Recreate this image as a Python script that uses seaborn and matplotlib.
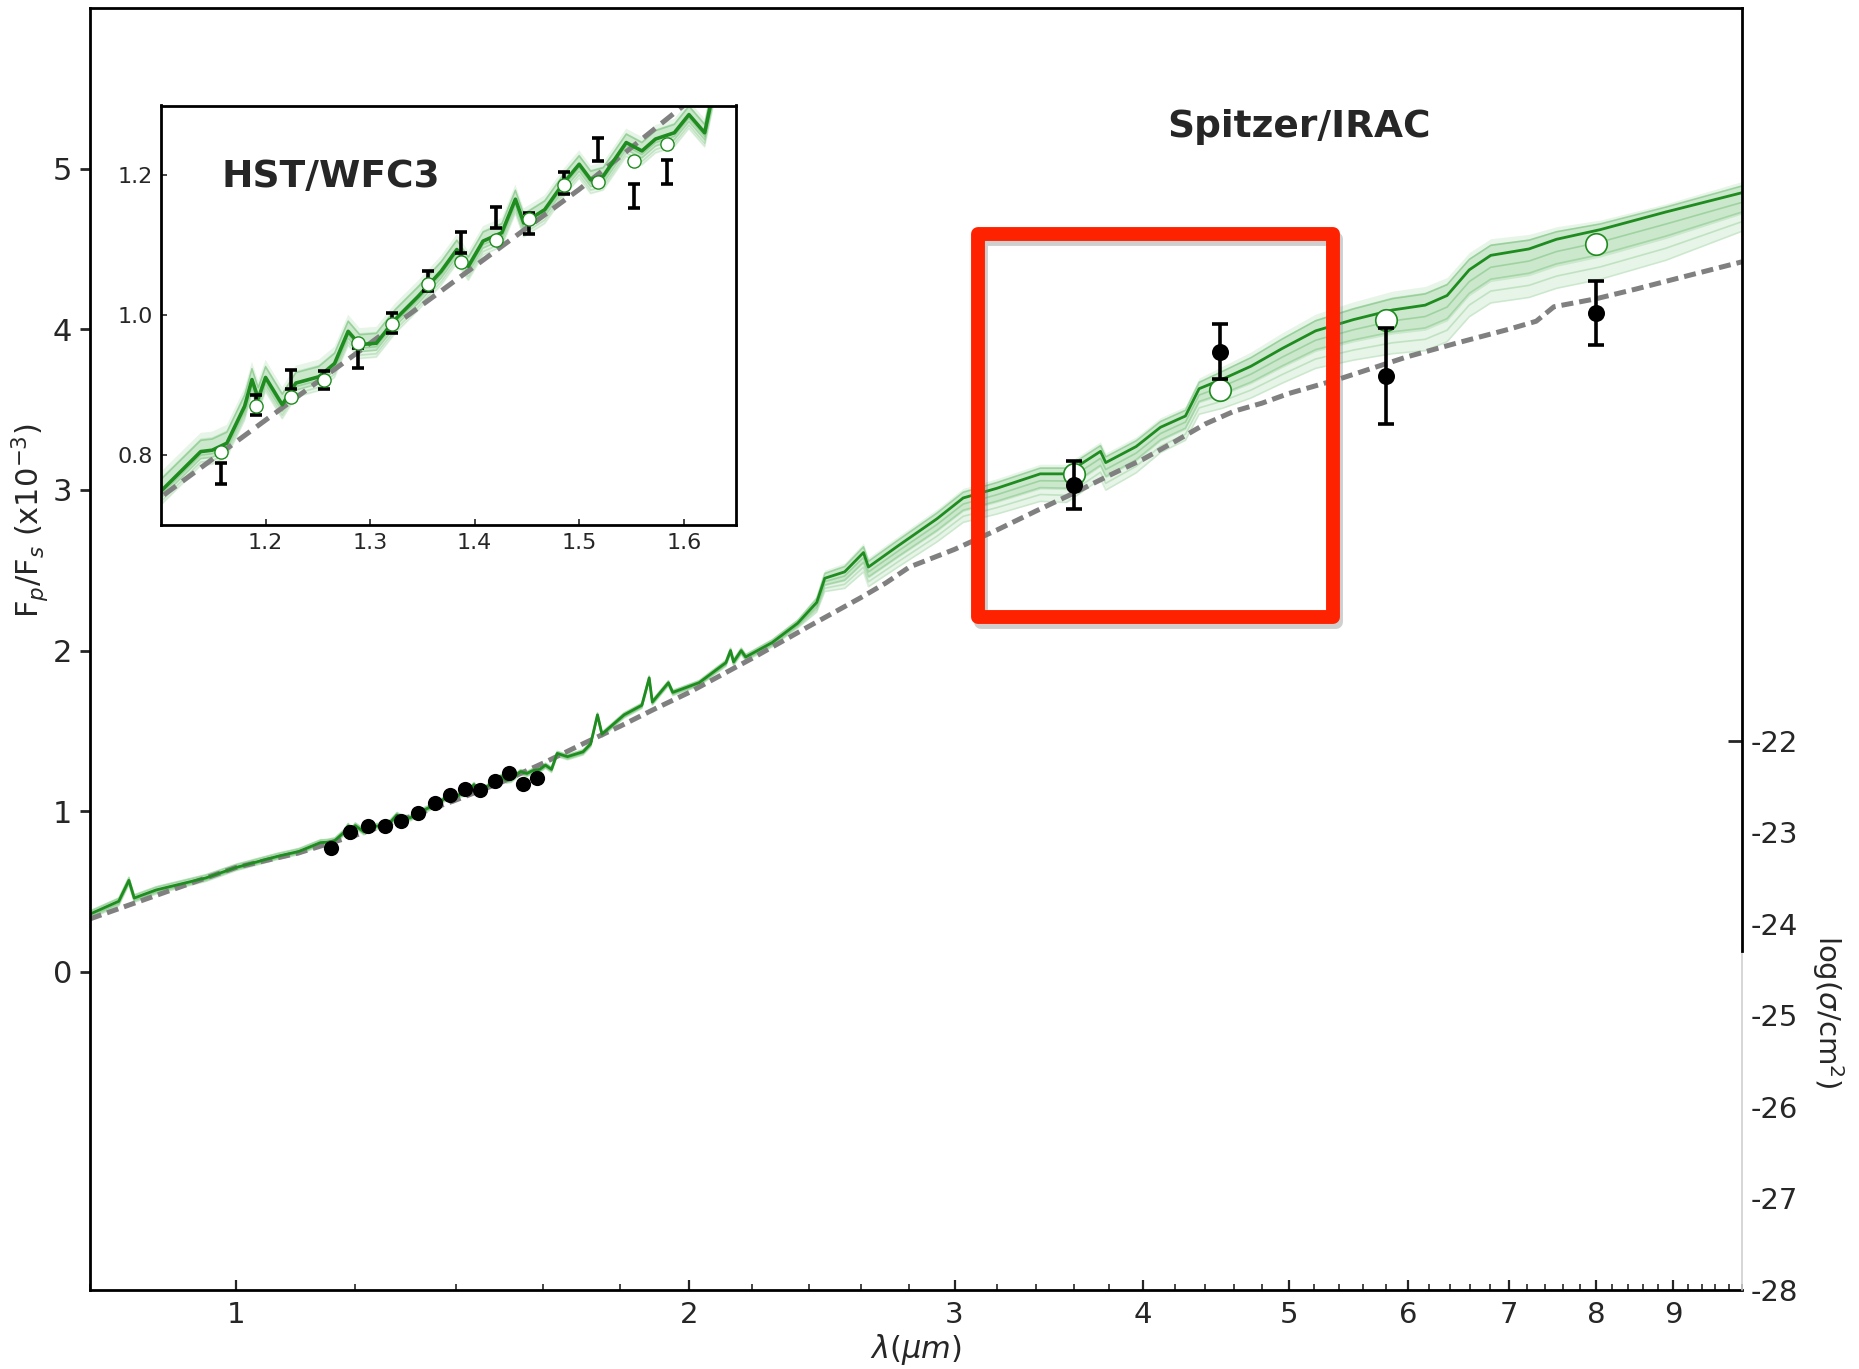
import numpy as np
import pandas as pd
import matplotlib
matplotlib.use("Agg")
import matplotlib.pyplot as plt
import matplotlib.transforms as mtransforms
from matplotlib.patches import Rectangle
from matplotlib.ticker import FixedLocator, NullFormatter, FixedFormatter
import seaborn as sns

# ---------------- data ----------------
# best-fit emission model (F_p/F_s x1e-3)
wl_fit = [0.80, 0.836, 0.849, 0.856, 0.885, 0.955, 1.00, 1.066, 1.101, 1.138,
          1.149, 1.163, 1.180, 1.187, 1.193, 1.200, 1.216, 1.229, 1.251, 1.266,
          1.279, 1.290, 1.306, 1.324, 1.346, 1.368, 1.383, 1.394, 1.408, 1.426,
          1.439, 1.447, 1.467, 1.485, 1.500, 1.511, 1.523, 1.534, 1.545, 1.560,
          1.573, 1.591, 1.605, 1.620, 1.634, 1.660, 1.700, 1.720, 1.738, 1.750,
          1.810, 1.860, 1.881, 1.890, 1.937, 1.950, 2.030, 2.115, 2.130, 2.140,
          2.165, 2.180, 2.270, 2.360, 2.430, 2.460, 2.536, 2.610, 2.630, 2.750,
          2.920, 3.040, 3.200, 3.420, 3.560, 3.610, 3.750, 3.780, 3.960, 4.110,
          4.270, 4.360, 4.520, 4.720, 4.950, 5.210, 5.520, 5.860, 6.160, 6.370,
          6.590, 6.810, 7.220, 7.530, 8.050, 8.900, 10.0]
fp_fit = [0.36, 0.44, 0.57, 0.46, 0.51, 0.585, 0.65, 0.72, 0.75, 0.805,
          0.807, 0.817, 0.870, 0.908, 0.881, 0.911, 0.872, 0.903, 0.912, 0.931,
          0.977, 0.958, 0.960, 0.994, 1.027, 1.063, 1.094, 1.070, 1.106, 1.118,
          1.166, 1.132, 1.151, 1.189, 1.216, 1.194, 1.199, 1.223, 1.247, 1.235,
          1.252, 1.261, 1.287, 1.261, 1.36, 1.34, 1.37, 1.42, 1.60, 1.48,
          1.60, 1.66, 1.83, 1.68, 1.80, 1.74, 1.80, 1.925, 2.00, 1.93,
          2.00, 1.96, 2.05, 2.17, 2.30, 2.45, 2.49, 2.61, 2.52, 2.65,
          2.82, 2.95, 3.01, 3.10, 3.10, 3.14, 3.24, 3.17, 3.27, 3.39,
          3.46, 3.63, 3.69, 3.77, 3.88, 3.99, 4.06, 4.12, 4.15, 4.21,
          4.37, 4.46, 4.50, 4.56, 4.62, 4.73, 4.85]

# spread of the posterior model samples around the best fit
wl_band = [0.8, 1.0, 1.5, 2.0, 2.4, 2.45, 2.6, 3.0, 3.6, 4.3, 4.5, 5.0, 6.0, 7.0, 8.0, 9.0, 10.0]
band_hi = [0.03, 0.03, 0.02, 0.02, 0.03, 0.05, 0.06, 0.06, 0.06, 0.06, 0.08, 0.10, 0.12, 0.10, 0.06, 0.05, 0.07]
band_lo = [0.03, 0.02, 0.02, 0.02, 0.03, 0.08, 0.12, 0.15, 0.18, 0.15, 0.18, 0.22, 0.28, 0.30, 0.31, 0.30, 0.24]

# blackbody (dashed grey)
wl_bb = [0.80, 0.90, 1.00, 1.10, 1.20, 1.30, 1.40, 1.50, 1.60, 1.70, 1.80, 1.90,
         2.00, 2.20, 2.40, 2.60, 2.70, 2.80, 3.00, 3.20, 3.40, 3.60, 3.80, 4.00,
         4.20, 4.40, 4.60, 4.80, 5.00, 5.40, 6.00, 6.50, 7.00, 7.30, 7.50, 8.00,
         8.50, 9.00, 10.0]
fp_bb = [0.33, 0.50, 0.65, 0.74, 0.85, 0.96, 1.07, 1.18, 1.30, 1.42, 1.53, 1.64,
         1.74, 1.95, 2.15, 2.33, 2.42, 2.52, 2.63, 2.75, 2.87, 2.98, 3.09, 3.19,
         3.30, 3.41, 3.49, 3.54, 3.60, 3.69, 3.83, 3.92, 4.00, 4.05, 4.14, 4.19,
         4.25, 4.31, 4.42]

# HST/WFC3 observations
wl_hst = [1.157, 1.191, 1.224, 1.256, 1.288, 1.321, 1.355, 1.387, 1.420, 1.452, 1.485, 1.518, 1.552, 1.584]
fp_hst = [0.774, 0.872, 0.908, 0.907, 0.939, 0.989, 1.049, 1.104, 1.140, 1.131, 1.189, 1.237, 1.171, 1.205]
err_hst = [0.015, 0.014, 0.014, 0.013, 0.014, 0.014, 0.014, 0.015, 0.015, 0.015, 0.016, 0.016, 0.017, 0.017]
mod_hst = [0.805, 0.870, 0.883, 0.908, 0.960, 0.987, 1.044, 1.076, 1.107, 1.137, 1.187, 1.190, 1.221, 1.245]

# Spitzer/IRAC observations
wl_irac = [3.6, 4.5, 5.8, 8.0]
fp_irac = [3.03, 3.86, 3.71, 4.10]
err_irac = [0.15, 0.17, 0.30, 0.20]
mod_irac = [3.10, 3.62, 4.06, 4.53]

x_major = [1, 2, 3, 4, 5, 6, 7, 8, 9]
y_major = [0, 1, 2, 3, 4, 5]
sigma_ticks = [-28, -27, -26, -25, -24, -23, -22]
inset_xticks = [1.2, 1.3, 1.4, 1.5, 1.6]
inset_yticks = [0.8, 1.0, 1.2]

# ---------------- style ----------------
sns.set_style("ticks")
plt.rcParams["font.family"] = ["DejaVu Sans"]
plt.rcParams["axes.unicode_minus"] = False
plt.rcParams["mathtext.fontset"] = "dejavusans"

GREEN = "#1e8c1e"
LIGHT = "#4caf50"
GREY = "#808080"

fit = pd.DataFrame({"wl": wl_fit, "fp": fp_fit})
bb = pd.DataFrame({"wl": wl_bb, "fp": fp_bb})
hi = np.interp(np.log(wl_fit), np.log(wl_band), band_hi)
lo = np.interp(np.log(wl_fit), np.log(wl_band), band_lo)
fpv = np.array(fp_fit)

fig = plt.figure(figsize=(18.59, 13.69), dpi=100)
ax = fig.add_axes([0.0484, 0.0577, 0.8887, 0.9365])
ax.set_xscale("log")


def draw_model(a, lw_best, lw_dash, dash):
    # posterior band
    a.fill_between(wl_fit, fpv - lo, fpv + hi, color=LIGHT, alpha=0.13, lw=0)
    a.fill_between(wl_fit, fpv - 0.55 * lo, fpv + 0.7 * hi, color=LIGHT, alpha=0.18, lw=0)
    for f, al in [(1.0, 0.18), (0.75, 0.25), (0.5, 0.3), (0.25, 0.35)]:
        a.plot(wl_fit, fpv - f * lo, color=LIGHT, alpha=al, lw=1.2)
    a.plot(wl_fit, fpv + 0.6 * hi, color=LIGHT, alpha=0.4, lw=1.2)
    sns.lineplot(data=bb, x="wl", y="fp", ax=a, color=GREY, lw=lw_dash,
                 estimator=None, sort=False)
    a.get_lines()[-1].set_dashes(dash)
    sns.lineplot(data=fit, x="wl", y="fp", ax=a, color=GREEN, lw=lw_best,
                 estimator=None, sort=False)


draw_model(ax, 2.0, 3.6, (2.4, 1.2))

# HST points in main panel
sns.scatterplot(x=wl_hst, y=fp_hst, ax=ax, color="black", s=120, edgecolor="black",
                linewidth=0, zorder=5)
# Spitzer model (binned) and observations
sns.scatterplot(x=wl_irac, y=mod_irac, ax=ax, color="white", s=240, edgecolor=GREEN,
                linewidth=1.2, zorder=5)
ax.errorbar(wl_irac, fp_irac, yerr=err_irac, fmt="none", ecolor="black",
            elinewidth=2.6, capsize=6, capthick=2.6, zorder=6)
sns.scatterplot(x=wl_irac, y=fp_irac, ax=ax, color="black", s=150, edgecolor="black",
                linewidth=0, zorder=7)

ax.set_xlim(0.8, 10)
ax.set_ylim(-1.98, 6.0)
ax.xaxis.set_major_locator(FixedLocator(x_major))
ax.xaxis.set_major_formatter(FixedFormatter([str(v) for v in x_major]))
ax.xaxis.set_minor_locator(FixedLocator([round(v, 1) for v in np.arange(0.8, 10.01, 0.2)]))
ax.xaxis.set_minor_formatter(NullFormatter())
ax.set_yticks(y_major)
ax.set_yticklabels([str(v) for v in y_major])
ax.tick_params(axis="x", which="major", direction="in", length=7, width=1.6,
               labelsize=21, pad=8)
ax.tick_params(axis="x", which="minor", direction="in", length=4, width=1.2)
ax.tick_params(axis="y", which="major", direction="out", length=7, width=2,
               labelsize=22, pad=6)
for s in ["left", "bottom", "top"]:
    ax.spines[s].set_linewidth(2)
    ax.spines[s].set_color("black")
ax.spines["right"].set_visible(False)
ax.set_xlabel(r"$\lambda(\mu m)$", fontsize=22, labelpad=2)
ax.set_ylabel(r"F$_p$/F$_s$ (x10$^{-3}$)", fontsize=22)
ax.yaxis.set_label_coords(-0.0235, 0.60)

# red highlight box with a soft shadow
box = dict(xy=(3.11, 2.209), width=5.35 - 3.11, height=4.594 - 2.209)
shadow_tr = mtransforms.offset_copy(ax.transData, fig=fig, x=3, y=-5, units="dots")
ax.add_patch(Rectangle(fill=False, ec="#777777", alpha=0.35, lw=10,
                       joinstyle="round", transform=shadow_tr, zorder=7.9, **box))
ax.add_patch(Rectangle(fill=False, ec="#ff2200", lw=10, joinstyle="round",
                       zorder=8, **box))

ax.text(5.08, 5.26, "Spitzer/IRAC", fontsize=27, fontweight="bold",
        ha="center", va="center")

# right axis: cross-section scale
ax2 = ax.twinx()
ax2.set_ylim(-28, -14)
ax2.set_yticks(sigma_ticks)
ax2.set_yticklabels([str(v) for v in sigma_ticks])
ax2.yaxis.remove_overlapping_locs = False
ax2.yaxis.set_minor_locator(FixedLocator([-22]))
ax2.tick_params(axis="y", which="major", length=0, labelsize=21, pad=6)
ax2.tick_params(axis="y", which="minor", direction="in", length=10, width=2)
for s in ["left", "bottom", "top"]:
    ax2.spines[s].set_visible(False)
ax2.spines["right"].set_linewidth(2)
ax2.spines["right"].set_color("black")
ax2.spines["right"].set_bounds(-24.3, -14)
ax2.plot([1, 1], [0, (28 - 24.3) / 14], transform=ax2.transAxes, color="#cfcfcf",
         lw=1.2, clip_on=False)
ax2.set_ylabel(r"log($\sigma$/cm$^2$)", fontsize=21, rotation=270, va="bottom", ha="center")
ax2.yaxis.set_label_coords(1.041, 0.217)

# ---------------- inset (HST/WFC3) ----------------
axi = fig.add_axes([161 / 1859, 1 - 525 / 1369, 575 / 1859, 419.5 / 1369])
draw_model(axi, 2.6, 3.6, (3.0, 1.6))
axi.errorbar(wl_hst, fp_hst, yerr=err_hst, fmt="none", ecolor="black",
             elinewidth=2.6, capsize=4, capthick=2.6, zorder=6)
sns.scatterplot(x=wl_hst, y=mod_hst, ax=axi, color="white", s=90, edgecolor=GREEN,
                linewidth=1.0, zorder=7)
axi.set_xlim(1.1, 1.65)
axi.set_ylim(0.70, 1.30)
axi.set_xticks(inset_xticks)
axi.set_xticklabels([f"{v:.1f}" for v in inset_xticks])
axi.set_yticks(inset_yticks)
axi.set_yticklabels([f"{v:.1f}" for v in inset_yticks])
axi.tick_params(axis="both", direction="in", length=4, width=1.2, labelsize=16, pad=6)
axi.set_xlabel("")
axi.set_ylabel("")
for s in axi.spines.values():
    s.set_linewidth(2)
    s.set_color("black")
axi.text(1.262, 1.198, "HST/WFC3", fontsize=27, fontweight="bold",
         ha="center", va="center")

fig.savefig("out.png", dpi=100)
